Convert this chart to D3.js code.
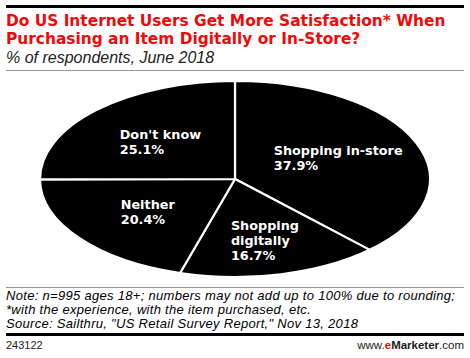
<!DOCTYPE html>
<html>
<head>
<meta charset="utf-8">
<script src="https://cdn.jsdelivr.net/npm/d3@7/dist/d3.min.js"></script>
<style>
  html, body { margin: 0; padding: 0; background: #fff; }
  svg { display: block; }
</style>
</head>
<body>
<svg id="chart" width="470" height="358"></svg>
<script>
// ---- data ----
const titleLines = ["Do US Internet Users Get More Satisfaction* When", "Purchasing an Item Digitally or In-Store?"];
const subtitle = "% of respondents, June 2018";
const categories = ["Shopping in-store", "Shopping digitally", "Neither", "Don't know"];
const values = [37.9, 16.7, 20.4, 25.1];
const noteLines = [
  "Note: n=995 ages 18+; numbers may not add up to 100% due to rounding;",
  "*with the experience, with the item purchased, etc.",
  "Source: Sailthru, \"US Retail Survey Report,\" Nov 13, 2018"
];
const chartId = "243122";

// ---- layout ----
const svg = d3.select("#chart");
const L = 6, R = 464;

svg.append("rect").attr("x", L).attr("y", 5).attr("width", R - L).attr("height", 3).attr("fill", "#000");

svg.append("g").selectAll("text").data(titleLines).join("text")
  .attr("x", L).attr("y", (d, i) => 25.5 + i * 18.5)
  .attr("font-family", "DejaVu Sans, Verdana, sans-serif")
  .attr("font-weight", "bold").attr("font-size", 15.4)
  .attr("fill", "#ee0a0a")
  .text(d => d);

svg.append("text").attr("x", L).attr("y", 63)
  .attr("font-family", "Liberation Sans, Arial, sans-serif")
  .attr("font-style", "italic").attr("font-size", 16).attr("fill", "#222")
  .text(subtitle);

svg.append("rect").attr("x", L).attr("y", 70).attr("width", R - L).attr("height", 1).attr("fill", "#999");

// pie (squashed circle -> ellipse)
const cx = 235, cy = 179, rx = 195, ry = 98;
const pie = d3.pie().sort(null).value(d => d.value);
const arcs = pie(categories.map((c, i) => ({ name: c, value: values[i] })));
const arc = d3.arc().innerRadius(0).outerRadius(rx);

const gPie = svg.append("g").attr("transform", `translate(${cx},${cy}) scale(1,${ry / rx})`);
gPie.selectAll("path").data(arcs).join("path")
  .attr("d", arc)
  .attr("fill", "#000")
  .attr("stroke", "#fff")
  .attr("stroke-width", 2.2)
  .attr("stroke-linejoin", "round")
  .attr("vector-effect", "non-scaling-stroke");

// labels
const labelRadius = { "Shopping in-store": 0.57, "Shopping digitally": 0.65, "Neither": 0.56, "Don't know": 0.54 };
const labelLines = {
  "Shopping in-store": ["Shopping in-store"],
  "Shopping digitally": ["Shopping", "digitally"],
  "Neither": ["Neither"],
  "Don't know": ["Don't know"]
};
const lh = 15;
const gLab = svg.append("g")
  .attr("font-family", "DejaVu Sans, Verdana, sans-serif")
  .attr("font-weight", "bold").attr("font-size", 12.8).attr("fill", "#fff");
arcs.forEach(a => {
  const mid = (a.startAngle + a.endAngle) / 2;
  const k = labelRadius[a.data.name] * rx;
  const px = cx + k * Math.sin(mid);
  const py = cy - k * Math.cos(mid) * (ry / rx);
  const lines = labelLines[a.data.name].concat([d3.format(".1f")(a.data.value) + "%"]);
  const t = gLab.append("text");
  lines.forEach((ln, i) => {
    t.append("tspan").attr("x", 0).attr("y", i * lh).text(ln);
  });
  const bw = d3.max(t.selectAll("tspan").nodes(), n => n.getComputedTextLength());
  const blockH = (lines.length - 1) * lh;
  t.attr("transform", `translate(${px - bw / 2},${py - blockH / 2 + 4.5})`);
});

svg.append("rect").attr("x", L).attr("y", 287).attr("width", R - L).attr("height", 1).attr("fill", "#999");

svg.append("g").selectAll("text").data(noteLines).join("text")
  .attr("x", L).attr("y", (d, i) => 300 + i * 14)
  .attr("font-family", "Liberation Sans, Arial, sans-serif")
  .attr("font-style", "italic").attr("font-size", 13).attr("letter-spacing", 0.3).attr("fill", "#000")
  .text(d => d);

svg.append("rect").attr("x", L).attr("y", 333).attr("width", R - L).attr("height", 3).attr("fill", "#000");

svg.append("text").attr("x", L).attr("y", 349)
  .attr("font-family", "Liberation Sans, Arial, sans-serif")
  .attr("font-size", 11).attr("fill", "#222").text(chartId);

const foot = svg.append("text").attr("x", R).attr("y", 349).attr("text-anchor", "end")
  .attr("font-family", "Liberation Sans, Arial, sans-serif")
  .attr("font-size", 11.5).attr("fill", "#222");
foot.append("tspan").text("www.");
foot.append("tspan").attr("fill", "#ee0a0a").attr("font-weight", "bold").text("e");
foot.append("tspan").attr("font-weight", "bold").text("Marketer");
foot.append("tspan").text(".com");
</script>
</body>
</html>
